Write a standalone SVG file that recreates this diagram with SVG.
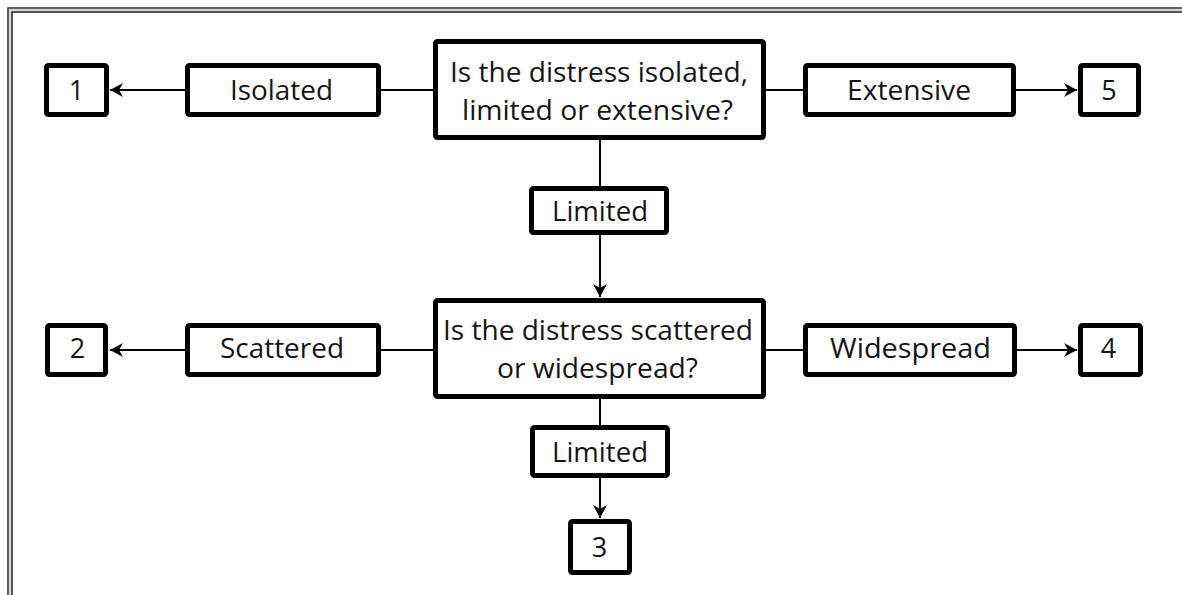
<svg xmlns="http://www.w3.org/2000/svg" width="1182" height="595" viewBox="0 0 1182 595">
  <style>
    .box { fill: #ffffff; stroke: #000000; stroke-width: 5; }
    .lbl { font-family: "Open Sans", "Lato", "Liberation Sans", sans-serif; font-size: 27px; fill: #151515; text-anchor: middle; }
    .con { stroke: #000000; stroke-width: 2; fill: none; }
  </style>
  <defs>
    <marker id="arr" markerUnits="userSpaceOnUse" markerWidth="14" markerHeight="16" viewBox="0 0 14 16" refX="13" refY="8" orient="auto">
      <path d="M0,1 L13,8 L0,15 L4,8 Z" fill="#000000"/>
    </marker>
  </defs>
  <rect x="0" y="0" width="1182" height="595" fill="#ffffff"/>
  <g id="frame">
    <rect x="8" y="8" width="1200" height="600" fill="none" stroke="#3a3a3a" stroke-width="1.6"/>
    <rect x="10" y="10" width="1200" height="600" fill="none" stroke="#c8c8c8" stroke-width="1.5"/>
    <rect x="12" y="12" width="1200" height="600" fill="none" stroke="#2a2a2a" stroke-width="1.6"/>
  </g>
  <g id="connectors">
    <line class="con" x1="433" y1="90" x2="381" y2="90"/>
    <line class="con" x1="185" y1="90" x2="110" y2="90" marker-end="url(#arr)"/>
    <line class="con" x1="766" y1="90" x2="803" y2="90"/>
    <line class="con" x1="1016" y1="90" x2="1077" y2="90" marker-end="url(#arr)"/>
    <line class="con" x1="600" y1="140" x2="600" y2="186"/>
    <line class="con" x1="600" y1="235" x2="600" y2="297" marker-end="url(#arr)"/>
    <line class="con" x1="433" y1="350" x2="381" y2="350"/>
    <line class="con" x1="185" y1="350" x2="110" y2="350" marker-end="url(#arr)"/>
    <line class="con" x1="766" y1="350" x2="803" y2="350"/>
    <line class="con" x1="1017" y1="350" x2="1077" y2="350" marker-end="url(#arr)"/>
    <line class="con" x1="600" y1="399" x2="600" y2="425"/>
    <line class="con" x1="600" y1="478" x2="600" y2="518" marker-end="url(#arr)"/>
  </g>
  <g id="n1">
    <rect class="box" x="46.5" y="65.5" width="60" height="49" rx="2"/>
    <text class="lbl" x="76.5" y="100">1</text>
  </g>
  <g id="isolated">
    <rect class="box" x="187.5" y="65.5" width="191" height="49" rx="2"/>
    <text class="lbl" x="281.5" y="100" textLength="103" lengthAdjust="spacingAndGlyphs">Isolated</text>
  </g>
  <g id="q1">
    <rect class="box" x="435.5" y="41.5" width="328" height="96" rx="2"/>
    <text class="lbl" x="599" y="82" textLength="298" lengthAdjust="spacingAndGlyphs">Is the distress isolated,</text>
    <text class="lbl" x="597.5" y="120" textLength="271" lengthAdjust="spacingAndGlyphs">limited or extensive?</text>
  </g>
  <g id="extensive">
    <rect class="box" x="805.5" y="65.5" width="208" height="49" rx="2"/>
    <text class="lbl" x="909" y="100" textLength="124" lengthAdjust="spacingAndGlyphs">Extensive</text>
  </g>
  <g id="n5">
    <rect class="box" x="1080.5" y="65.5" width="58" height="49" rx="2"/>
    <text class="lbl" x="1109" y="100">5</text>
  </g>
  <g id="limited1">
    <rect class="box" x="531.5" y="188.5" width="135" height="44" rx="2"/>
    <text class="lbl" x="600" y="221" textLength="96" lengthAdjust="spacingAndGlyphs">Limited</text>
  </g>
  <g id="q2">
    <rect class="box" x="435.5" y="300.5" width="328" height="96" rx="2"/>
    <text class="lbl" x="598" y="340" textLength="310" lengthAdjust="spacingAndGlyphs">Is the distress scattered</text>
    <text class="lbl" x="597.5" y="378" textLength="201" lengthAdjust="spacingAndGlyphs">or widespread?</text>
  </g>
  <g id="n2">
    <rect class="box" x="47.5" y="325.5" width="58" height="49" rx="2"/>
    <text class="lbl" x="77.5" y="358">2</text>
  </g>
  <g id="scattered">
    <rect class="box" x="187.5" y="325.5" width="191" height="49" rx="2"/>
    <text class="lbl" x="282" y="358" textLength="124" lengthAdjust="spacingAndGlyphs">Scattered</text>
  </g>
  <g id="widespread">
    <rect class="box" x="805.5" y="325.5" width="209" height="49" rx="2"/>
    <text class="lbl" x="910.5" y="358" textLength="161" lengthAdjust="spacingAndGlyphs">Widespread</text>
  </g>
  <g id="n4">
    <rect class="box" x="1080.5" y="325.5" width="60" height="49" rx="2"/>
    <text class="lbl" x="1108.5" y="358">4</text>
  </g>
  <g id="limited2">
    <rect class="box" x="532.5" y="427.5" width="135" height="48" rx="2"/>
    <text class="lbl" x="600" y="462" textLength="96" lengthAdjust="spacingAndGlyphs">Limited</text>
  </g>
  <g id="n3">
    <rect class="box" x="570.5" y="521.5" width="59" height="51" rx="2"/>
    <text class="lbl" x="599.5" y="557">3</text>
  </g>
</svg>
